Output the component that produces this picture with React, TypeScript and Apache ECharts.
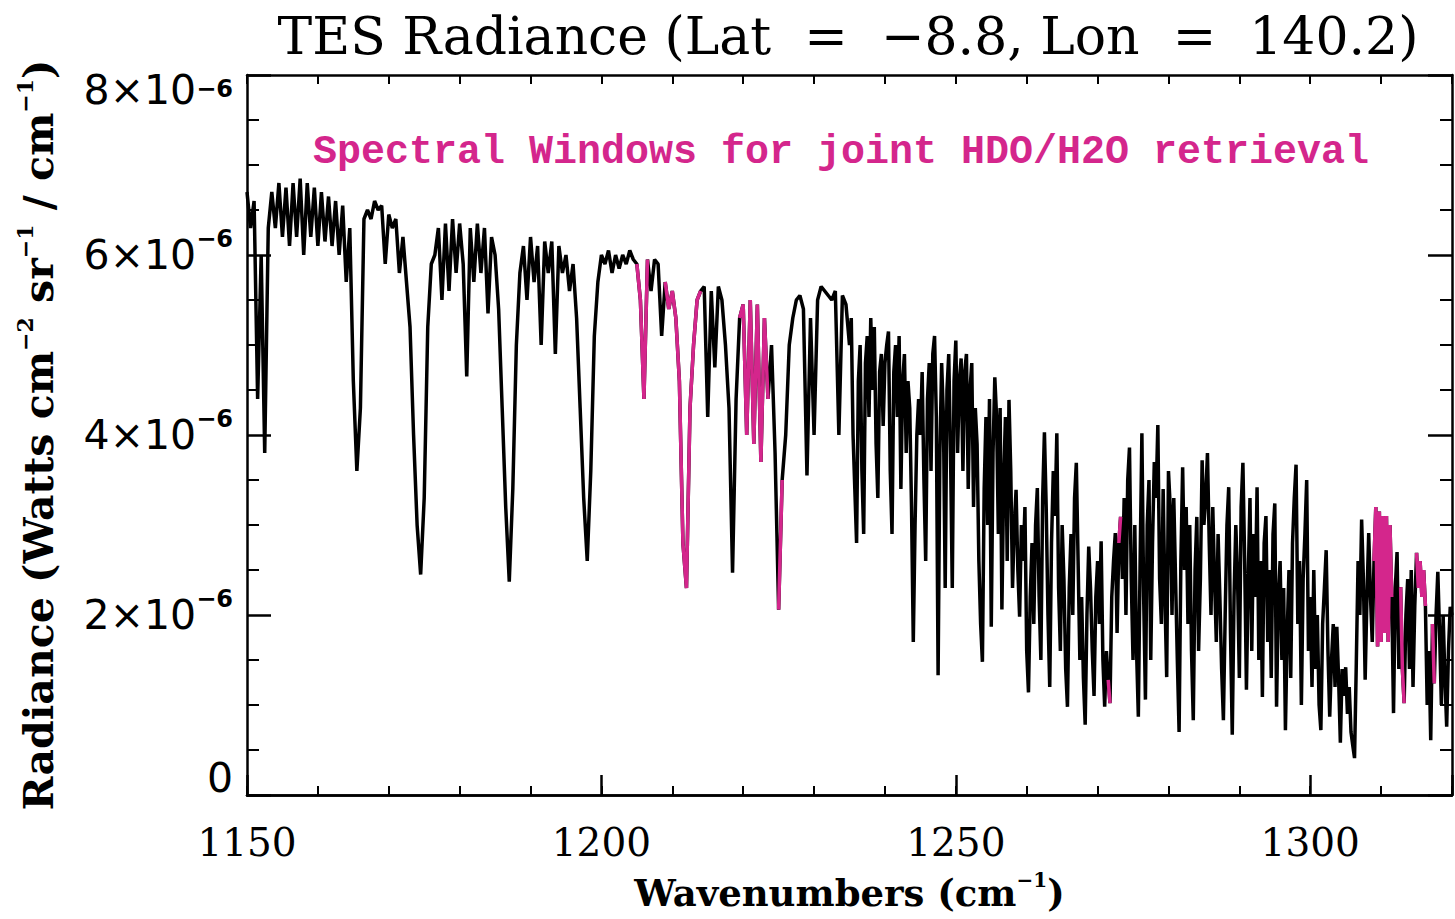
import React, { useEffect, useRef } from 'react';
import * as echarts from 'echarts';

// Radiance in units of 1e-6 W cm^-2 sr^-1 / cm^-1
// Part 1: every 0.5 cm^-1 from 1150 to 1235 cm^-1
const COARSE_START = 1150;
const COARSE_STEP = 0.5;
const radianceCoarse = [
  6.7, 6.3, 6.6, 4.4, 6.0, 3.8, 6.3, 6.7, 6.3, 6.8, // 1150
  6.2, 6.75, 6.1, 6.8, 6.2, 6.85, 6.0, 6.8, 6.2, 6.75, // 1155
  6.1, 6.7, 6.15, 6.65, 6.1, 6.6, 6.0, 6.55, 5.7, 6.3, // 1160
  4.6, 3.6, 4.3, 6.4, 6.5, 6.4, 6.6, 6.5, 6.55, 5.9, // 1165
  6.45, 6.3, 6.4, 5.8, 6.2, 5.7, 5.2, 4.0, 3.0, 2.45, // 1170
  3.3, 5.2, 5.9, 6.0, 6.3, 5.5, 6.35, 5.6, 6.4, 5.8, // 1175
  6.35, 5.9, 4.65, 6.3, 5.7, 6.35, 5.8, 6.3, 5.35, 6.2, // 1180
  6.0, 5.4, 4.3, 3.2, 2.37, 3.4, 5.0, 5.8, 6.1, 5.5, // 1185
  6.2, 5.7, 6.1, 5.0, 6.15, 5.8, 6.15, 4.9, 6.1, 5.8, // 1190
  6.0, 5.6, 5.9, 5.3, 4.3, 3.3, 2.6, 3.6, 5.1, 5.7, // 1195
  6.0, 5.9, 6.05, 5.8, 6.0, 5.85, 6.0, 5.9, 6.05, 5.95, // 1200
  5.9, 5.5, 4.4, 5.95, 5.6, 5.95, 5.9, 5.1, 5.7, 5.4, // 1205
  5.6, 5.3, 4.6, 2.8, 2.3, 4.3, 5.0, 5.5, 5.6, 5.65, // 1210
  4.2, 5.6, 4.75, 5.65, 5.5, 5.0, 4.3, 2.47, 4.4, 5.3, // 1215
  5.45, 4.0, 5.5, 3.9, 5.45, 3.7, 5.3, 4.4, 5.0, 3.8, // 1220
  2.06, 3.5, 4.0, 5.0, 5.3, 5.5, 5.55, 5.4, 3.55, 5.3, // 1225
  4.0, 5.5, 5.65, 5.6, 5.55, 5.5, 5.6, 4.0, 5.55, 5.45, // 1230
  5.0, // 1235
];

// Part 2: every 0.25 cm^-1 from 1235.25 to 1320 cm^-1 (dense line region)
const FINE_START = 1235.25;
const FINE_STEP = 0.25;
const radianceFine = [
  5.3, 4.0, 3.4, 2.8, // 1235.25
  4.6, 5.0, 3.6, 2.9, // 1236.25
  4.8, 5.1, 4.2, 5.3, // 1237.25
  4.5, 5.2, 3.9, 3.3, // 1238.25
  4.7, 4.9, 4.1, 4.8, // 1239.25
  5.0, 5.15, 3.6, 2.9, // 1240.25
  4.7, 5.0, 4.2, 5.1, // 1241.25
  3.4, 4.6, 4.9, 3.8, // 1242.25
  4.6, 4.3, 3.2, 1.7, // 1243.25
  3.0, 4.0, 4.4, 4.0, // 1244.25
  4.7, 3.5, 2.6, 4.4, // 1245.25
  4.8, 3.6, 4.9, 5.1, // 1246.25
  4.2, 1.33, 3.8, 4.8, // 1247.25
  4.2, 2.3, 4.5, 4.9, // 1248.25
  3.8, 2.3, 4.6, 5.05, // 1249.25
  3.8, 4.6, 4.85, 3.6, // 1250.25
  4.7, 4.9, 3.4, 4.5, // 1251.25
  4.8, 3.2, 4.3, 3.9, // 1252.25
  2.6, 1.9, 1.48, 3.4, // 1253.25
  4.2, 3.0, 4.4, 1.87, // 1254.25
  3.8, 4.64, 4.2, 2.9, // 1255.25
  4.3, 2.06, 3.5, 4.2, // 1256.25
  2.6, 4.39, 3.6, 2.3, // 1257.25
  3.0, 3.39, 2.5, 1.98, // 1258.25
  3.0, 2.6, 3.2, 1.6, // 1259.25
  1.14, 2.2, 2.8, 1.9, // 1260.25
  3.0, 3.41, 2.2, 1.5, // 1261.25
  3.3, 4.03, 3.2, 2.0, // 1262.25
  1.2, 2.8, 3.6, 3.1, // 1263.25
  4.02, 2.3, 1.6, 3.0, // 1264.25
  2.4, 1.4, 0.98, 2.3, // 1265.25
  2.9, 2.0, 3.3, 3.69, // 1266.25
  2.6, 1.5, 2.2, 1.3, // 1267.25
  0.78, 2.0, 2.76, 2.3, // 1268.25
  1.6, 1.1, 2.2, 2.6, // 1269.25
  1.9, 2.82, 1.5, 0.98, // 1270.25
  1.6, 1.28, 1.02, 2.2, // 1271.25
  2.6, 2.91, 1.8, 2.8, // 1272.25
  3.09, 2.4, 3.3, 2.0, // 1273.25
  3.5, 3.86, 2.4, 1.5, // 1274.25
  3.0, 1.6, 0.87, 2.6, // 1275.25
  4.02, 2.2, 1.06, 3.0, // 1276.25
  3.5, 1.5, 2.8, 3.7, // 1277.25
  3.3, 4.11, 2.4, 1.9, // 1278.25
  3.4, 2.2, 1.31, 3.6, // 1279.25
  3.2, 2.0, 3.3, 2.4, // 1280.25
  1.5, 0.7, 2.6, 3.64, // 1281.25
  2.5, 3.2, 1.9, 3.0, // 1282.25
  1.6, 0.83, 2.5, 3.09, // 1283.25
  1.6, 2.4, 3.72, 3.0, // 1284.25
  3.3, 3.8, 2.8, 2.0, // 1285.25
  3.2, 2.4, 1.7, 2.9, // 1286.25
  2.2, 1.4, 0.83, 2.0, // 1287.25
  3.0, 3.42, 1.8, 0.67, // 1288.25
  2.2, 3.0, 2.4, 1.3, // 1289.25
  3.2, 3.69, 2.6, 1.17, // 1290.25
  2.4, 3.3, 1.6, 2.9, // 1291.25
  2.2, 3.42, 1.5, 2.6, // 1292.25
  1.09, 2.8, 3.1, 1.7, // 1293.25
  2.5, 1.3, 2.9, 3.24, // 1294.25
  0.98, 2.2, 2.6, 1.5, // 1295.25
  2.3, 0.72, 1.8, 2.5, // 1296.25
  1.3, 2.8, 3.3, 3.67, // 1297.25
  1.9, 2.6, 1.0, 2.4, // 1298.25
  2.9, 3.5, 1.6, 2.2, // 1299.25
  1.2, 2.5, 1.4, 2.0, // 1300.25
  1.0, 0.72, 1.9, 2.3, // 1301.25
  2.72, 1.6, 0.87, 1.5, // 1302.25
  1.9, 1.2, 1.87, 1.3, // 1303.25
  0.58, 1.4, 1.1, 1.42, // 1304.25
  0.9, 1.2, 0.7, 0.55, // 1305.25
  0.41, 1.47, 2.6, 2.0, // 1306.25
  3.06, 2.4, 1.28, 2.2, // 1307.25
  2.91, 2.2, 1.7, 2.6, // 1308.25
  3.2, 1.65, 3.15, 1.7, // 1309.25
  3.1, 1.8, 3.1, 1.7, // 1310.25
  3.0, 2.2, 0.91, 2.3, // 1311.25
  2.7, 1.4, 2.31, 1.4, // 1312.25
  1.02, 2.0, 2.4, 1.4, // 1313.25
  2.5, 1.2, 2.1, 2.69, // 1314.25
  2.3, 2.6, 2.2, 2.5, // 1315.25
  2.1, 1.0, 1.6, 0.61, // 1316.25
  1.9, 1.24, 2.0, 2.48, // 1317.25
  1.8, 1.0, 2.0, 1.3, // 1318.25
  0.76, 1.6, 2.09, 2.0, // 1319.25
];

// Spectral windows (cm^-1) used for the joint HDO/H2O retrieval
const spectralWindows = [
  [1205, 1206.5],
  [1209, 1214],
  [1219.5, 1223.5],
  [1225, 1225.5],
  [1271.5, 1271.75],
  [1273, 1273.25],
  [1309, 1311.5],
  [1312.75, 1313.25],
  [1315, 1316.25],
  [1317.25, 1317.5],
];

const xMajorTicks = [1150, 1200, 1250, 1300];
const yTickValues = [0, 2, 4, 6, 8];

const TITLE = 'TES Radiance (Lat  =  \u22128.8, Lon  =  140.2)';
const NOTE = 'Spectral Windows for joint HDO/H2O retrieval';

const PINK = '#d4268c';
const SERIF = '"DejaVu Serif", serif';
const SANS = '"DejaVu Sans", sans-serif';
const MONO = '"Liberation Mono", "DejaVu Sans Mono", monospace';

export default function App() {
  const ref = useRef<HTMLDivElement>(null);

  useEffect(() => {
    if (!ref.current) return;
    const chart = echarts.init(ref.current, undefined, { renderer: 'svg' });

    const points: [number, number][] = [
      ...radianceCoarse.map((v, i) => [COARSE_START + i * COARSE_STEP, v] as [number, number]),
      ...radianceFine.map((v, i) => [FINE_START + i * FINE_STEP, v] as [number, number]),
    ];
    const inWindow = (w: number) =>
      spectralWindows.some(([a, b]) => w >= a - 1e-6 && w <= b + 1e-6);
    const pinkData = points.map(([w, v]) => [w, inWindow(w) ? v : null]);

    const axisLine = { show: true, onZero: false, lineStyle: { color: '#000', width: 2.5 } };
    const xBase = {
      type: 'value',
      min: 1150,
      max: 1320,
      gridIndex: 0,
      splitLine: { show: false },
      axisLine,
    };
    const minorX = {
      ...xBase,
      interval: 10,
      axisTick: { show: true, inside: true, length: 9, lineStyle: { color: '#000', width: 2 } },
    };
    const majorX = {
      ...xBase,
      interval: 50,
      axisTick: { show: true, inside: true, length: 20, lineStyle: { color: '#000', width: 2.5 } },
      axisLabel: { show: false },
    };

    const yBase = {
      type: 'value',
      min: 0,
      max: 8,
      interval: 2,
      splitLine: { show: false },
      axisLine,
      axisTick: { show: true, inside: true, length: 24, lineStyle: { color: '#000', width: 2.5 } },
      minorTick: { show: true, splitNumber: 4, length: 12, lineStyle: { color: '#000', width: 2 } },
    };

    const option = {
      animation: false,
      backgroundColor: '#fff',
      grid: { left: 247, right: 1, top: 75, bottom: 124, containLabel: false },
      xAxis: [
        {
          ...minorX,
          position: 'bottom',
          axisLabel: {
            show: true,
            margin: 28,
            color: '#000',
            fontFamily: SERIF,
            fontSize: 39,
            formatter: (v: number) => (xMajorTicks.includes(v) ? String(v) : ''),
          },
          name: '{n|Wavenumbers (cm}{s|\u22121}{n|)}',
          nameLocation: 'middle',
          nameGap: 75,
          nameTextStyle: {
            rich: {
              n: { fontFamily: SERIF, fontWeight: 'bold', fontSize: 37, color: '#000', lineHeight: 46 },
              s: { fontFamily: SERIF, fontWeight: 'bold', fontSize: 20, color: '#000', lineHeight: 20, verticalAlign: 'top' },
            },
          },
        },
        { ...majorX, position: 'bottom' },
        { ...minorX, position: 'top', axisLabel: { show: false } },
      ],
      yAxis: [
        {
          ...yBase,
          position: 'left',
          axisLabel: {
            show: true,
            margin: 14,
            formatter: (v: number) => {
              if (!yTickValues.includes(v)) return '';
              if (v === 0) return '{z|0}';
              if (v === 8) return `{t|${v}\u00d710}{et|\u22126}`;
              return `{m|${v}\u00d710}{e|\u22126}`;
            },
            rich: {
              m: { fontFamily: SANS, fontSize: 41, color: '#000', lineHeight: 56 },
              e: { fontFamily: SANS, fontWeight: 'bold', fontSize: 24, color: '#000', lineHeight: 24, verticalAlign: 'top' },
              t: { fontFamily: SANS, fontSize: 41, color: '#000', lineHeight: 56, padding: [30, 0, 0, 0] },
              et: { fontFamily: SANS, fontWeight: 'bold', fontSize: 24, color: '#000', lineHeight: 24, verticalAlign: 'top', padding: [30, 0, 0, 0] },
              z: { fontFamily: SANS, fontSize: 41, color: '#000', lineHeight: 56, padding: [0, 0, 34, 0] },
            },
          },
          name: '{n|Radiance (Watts cm}{s|\u22122}{n| sr}{s|\u22121}{n| / cm}{s|\u22121}{n|)}',
          nameLocation: 'middle',
          nameRotate: 90,
          nameGap: 183,
          nameTextStyle: {
            rich: {
              n: { fontFamily: SERIF, fontWeight: 'bold', fontSize: 41, color: '#000', lineHeight: 50 },
              s: { fontFamily: SERIF, fontWeight: 'bold', fontSize: 22, color: '#000', lineHeight: 22, verticalAlign: 'top' },
            },
          },
        },
        { ...yBase, position: 'right', axisLabel: { show: false } },
      ],
      graphic: [
        {
          type: 'text',
          x: 848,
          y: 36,
          style: {
            text: TITLE,
            fontFamily: SERIF,
            fontSize: 52,
            fill: '#000',
            textAlign: 'center',
            textVerticalAlign: 'middle',
            align: 'center',
            verticalAlign: 'middle',
          },
        },
        {
          type: 'text',
          x: 841,
          y: 152,
          style: {
            text: NOTE,
            fontFamily: MONO,
            fontWeight: 'bold',
            fontSize: 40,
            fill: PINK,
            textAlign: 'center',
            textVerticalAlign: 'middle',
            align: 'center',
            verticalAlign: 'middle',
          },
        },
      ],
      series: [
        {
          type: 'line',
          name: 'radiance',
          xAxisIndex: 0,
          yAxisIndex: 0,
          data: points,
          showSymbol: false,
          symbol: 'none',
          clip: true,
          lineStyle: { color: '#000', width: 3.5 },
          z: 2,
        },
        {
          type: 'line',
          name: 'windows',
          xAxisIndex: 0,
          yAxisIndex: 0,
          data: pinkData,
          connectNulls: false,
          showSymbol: false,
          symbol: 'none',
          clip: true,
          lineStyle: { color: PINK, width: 3.5 },
          z: 3,
        },
      ],
    };

    chart.setOption(option as any);
    return () => chart.dispose();
  }, []);

  return (
    <div
      ref={ref}
      style={{ position: 'absolute', left: 0, top: 0, width: 1455, height: 919, background: '#fff' }}
    />
  );
}
